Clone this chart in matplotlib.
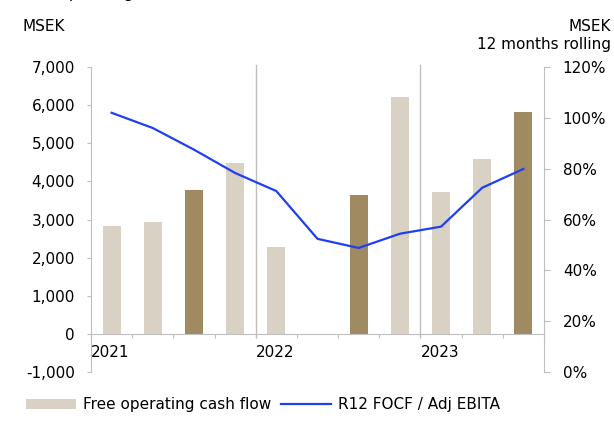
import matplotlib.pyplot as plt
from matplotlib.patches import Patch
from matplotlib.lines import Line2D
from matplotlib.ticker import FuncFormatter

plt.rcParams['font.family'] = ['DejaVu Sans']
plt.rcParams['font.size'] = 11

# quarterly data, Q1 2021 .. Q3 2023
quarters = ['Q1 21', 'Q2 21', 'Q3 21', 'Q4 21', 'Q1 22', 'Q2 22', 'Q3 22',
            'Q4 22', 'Q1 23', 'Q2 23', 'Q3 23']
focf = [2840, 2945, 3775, 4475, 2280, -40, 3645, 6215, 3715, 4580, 5820]
focf_ebita = [1.02, 0.96, 0.875, 0.783, 0.712, 0.524, 0.488, 0.544, 0.572, 0.725, 0.799]
highlight = [False, False, True, False, False, False, True, False, False, False, True]
years = ['2021', '2022', '2023']
year_start = [0, 4, 8]

light = '#D9D1C3'
dark = '#A08A62'
blue = '#1F3FF0'
grey = '#BFBFBF'

fig = plt.figure(figsize=(6.14, 4.41), dpi=100)
ax = fig.add_axes([0.1482, 0.1565, 0.886 - 0.1482, 0.848 - 0.1565])
ax2 = ax.twinx()

x = list(range(len(quarters)))
colors = [dark if h else light for h in highlight]
ax.bar(x, focf, width=0.44, color=colors, zorder=2)
ax.set_xlim(-0.5, len(quarters) - 0.5)
ax.set_ylim(-1000, 7000)
ax.set_yticks(range(-1000, 8000, 1000))
ax.yaxis.set_major_formatter(FuncFormatter(lambda v, p: f'{int(v):,}'))

for s in ['top', 'right']:
    ax.spines[s].set_visible(False)
ax.spines['left'].set_color(grey)
ax.spines['bottom'].set_color(grey)
ax.spines['bottom'].set_position(('data', 0))
ax.set_xticks([i - 0.5 for i in range(len(quarters) + 1)])
ax.set_xticklabels([])
ax.tick_params(axis='x', length=3, color=grey, direction='out')
ax.tick_params(axis='y', length=3, color=grey, pad=8.5)

for b in [3.5, 7.5]:
    ax.plot([b, b], [-80, 7050], color=grey, lw=1, zorder=1, clip_on=False)

for yr, s in zip(years, year_start):
    ax.text(s - 0.5, -480, yr, ha='left', va='center')

ax2.plot(x, focf_ebita, color=blue, lw=1.6, zorder=3)
ax2.set_ylim(0, 1.2)
ax2.set_yticks([0, 0.2, 0.4, 0.6, 0.8, 1.0, 1.2])
ax2.yaxis.set_major_formatter(FuncFormatter(lambda v, p: f'{v:.0%}'))
for s in ['top', 'left', 'bottom']:
    ax2.spines[s].set_visible(False)
ax2.spines['right'].set_color(grey)
ax2.tick_params(axis='y', length=4, color=grey, pad=9.5)

fig.text(0.036, 0.941, 'MSEK', ha='left', va='center')
fig.text(0.995, 0.941, 'MSEK', ha='right', va='center')
fig.text(0.995, 0.900, '12 months rolling', ha='right', va='center')
fig.text(0.036, 1.004, 'Free operating cash flow', ha='left', va='baseline')

handles = [Patch(facecolor=light, edgecolor='none'),
           Line2D([], [], color=blue, lw=1.6)]
fig.legend(handles, ['Free operating cash flow', 'R12 FOCF / Adj EBITA'],
           loc='center left', bbox_to_anchor=(0.02, 0.082), ncol=2, frameon=False,
           handlelength=3.3, handleheight=0.55, handletextpad=0.45, columnspacing=0.6)

fig.savefig('out.png', dpi=100)
